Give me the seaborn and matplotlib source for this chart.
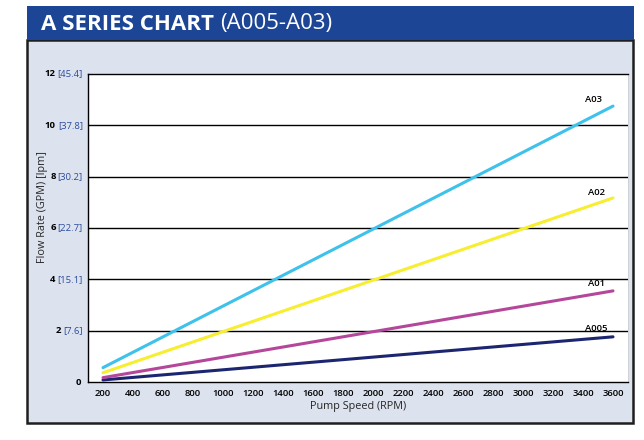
import matplotlib
matplotlib.use("Agg")
import matplotlib.pyplot as plt
import matplotlib.patches as mpatches
import seaborn as sns
import pandas as pd

# data (flow in GPM at 200 and 3600 RPM)
rpm = [200, 3600]
a005 = [0.08, 1.76]
a01 = [0.17, 3.55]
a02 = [0.36, 7.17]
a03 = [0.56, 10.75]
series_names = ["A005", "A01", "A02", "A03"]
series_colors = ["#1c2670", "#b5479b", "#f7ee2f", "#3ec1ea"]
label_pos = [(3490, 2.07), (3490, 3.83), (3490, 7.38), (3470, 11.0)]
ytick_gpm = [0, 2, 4, 6, 8, 10, 12]
ytick_lpm = ["", "[7.6]", "[15.1]", "[22.7]", "[30.2]", "[37.8]", "[45.4]"]
xticks = list(range(200, 3601, 200))

rows = []
for name, vals in zip(series_names, [a005, a01, a02, a03]):
    for r, v in zip(rpm, vals):
        rows.append({"rpm": r, "gpm": v, "model": name})
df = pd.DataFrame(rows)

sns.set_style("white")
plt.rcParams["font.family"] = ["Open Sans", "DejaVu Sans"]

fig = plt.figure(figsize=(6.44, 4.40), dpi=100)
W, H = 644, 440

# grey-blue panel and blue header
fig.patches.append(mpatches.Rectangle((27 / W, 1 - 423 / H), 606 / W, 383 / H,
                                      transform=fig.transFigure, facecolor="#dde3ee",
                                      edgecolor="#1e1e1e", lw=1.8, zorder=-2))
fig.patches.append(mpatches.Rectangle((27 / W, 1 - 40.5 / H), 607 / W, 34.5 / H,
                                      transform=fig.transFigure, facecolor="#1d4595",
                                      edgecolor="none", zorder=-1))
t1 = fig.text(41 / W, 1 - 24 / H, "A SERIES CHART ", color="white", fontsize=16,
              fontweight="bold", va="center", ha="left")
fig.canvas.draw()
bb = t1.get_window_extent()
fig.text(bb.x1 / W, 1 - 24 / H, "(A005-A03)", color="white", fontsize=16,
         va="center", ha="left")

ax = fig.add_axes([88 / W, 1 - 382 / H, 540 / W, 308 / H], zorder=2)
ax.set_facecolor("white")

sns.lineplot(data=df, x="rpm", y="gpm", hue="model", hue_order=series_names,
             palette=series_colors, linewidth=2.2, legend=False, ax=ax)

for name, (lx, ly) in zip(series_names, label_pos):
    ax.text(lx, ly, name, fontsize=6.8, ha="center", va="center", color="black",
            fontweight="semibold")

ax.set_xlim(100, 3700)
ax.set_ylim(0, 12)
for g in ytick_gpm[1:-1]:
    ax.axhline(g, color="black", lw=1, zorder=0)

ax.set_xticks(xticks)
ax.set_xticklabels([str(x) for x in xticks], fontsize=6.8, fontweight="semibold")
ax.set_xticks(list(range(300, 3701, 200)), minor=True)
ax.tick_params(axis="x", which="major", direction="in", length=5, width=1,
               pad=5, colors="black")
ax.tick_params(axis="x", which="minor", direction="out", length=6, width=1,
               colors="black")
ax.set_yticks(ytick_gpm)
ax.set_yticklabels([])
ax.tick_params(axis="y", length=4, width=1, direction="out")

for g, lpm in zip(ytick_gpm, ytick_lpm):
    br = ax.annotate(lpm, xy=(0, g), xycoords=("axes fraction", "data"),
                     xytext=(-5, 0), textcoords="offset pixels", ha="right",
                     va="center", fontsize=6.8, color="#2b4c9b",
                     annotation_clip=False)
    ax.annotate(str(g), xy=(0, 0.5), xycoords=br, xytext=(-2, 0),
                textcoords="offset pixels", ha="right", va="center",
                fontsize=6.8, fontweight="bold", color="black",
                annotation_clip=False)

ax.set_xlabel("Pump Speed (RPM)", fontsize=7.8, labelpad=2)
ax.set_ylabel("")
fig.text(43 / W, 1 - 207 / H, "Flow Rate (GPM) [lpm]", rotation=90, fontsize=7.8,
         ha="center", va="center")

for s in ["left", "bottom", "top"]:
    ax.spines[s].set_color("black")
    ax.spines[s].set_linewidth(1)
ax.spines["right"].set_color("#cccccc")
ax.spines["right"].set_linewidth(0.5)

fig.savefig("out.png", dpi=100)
